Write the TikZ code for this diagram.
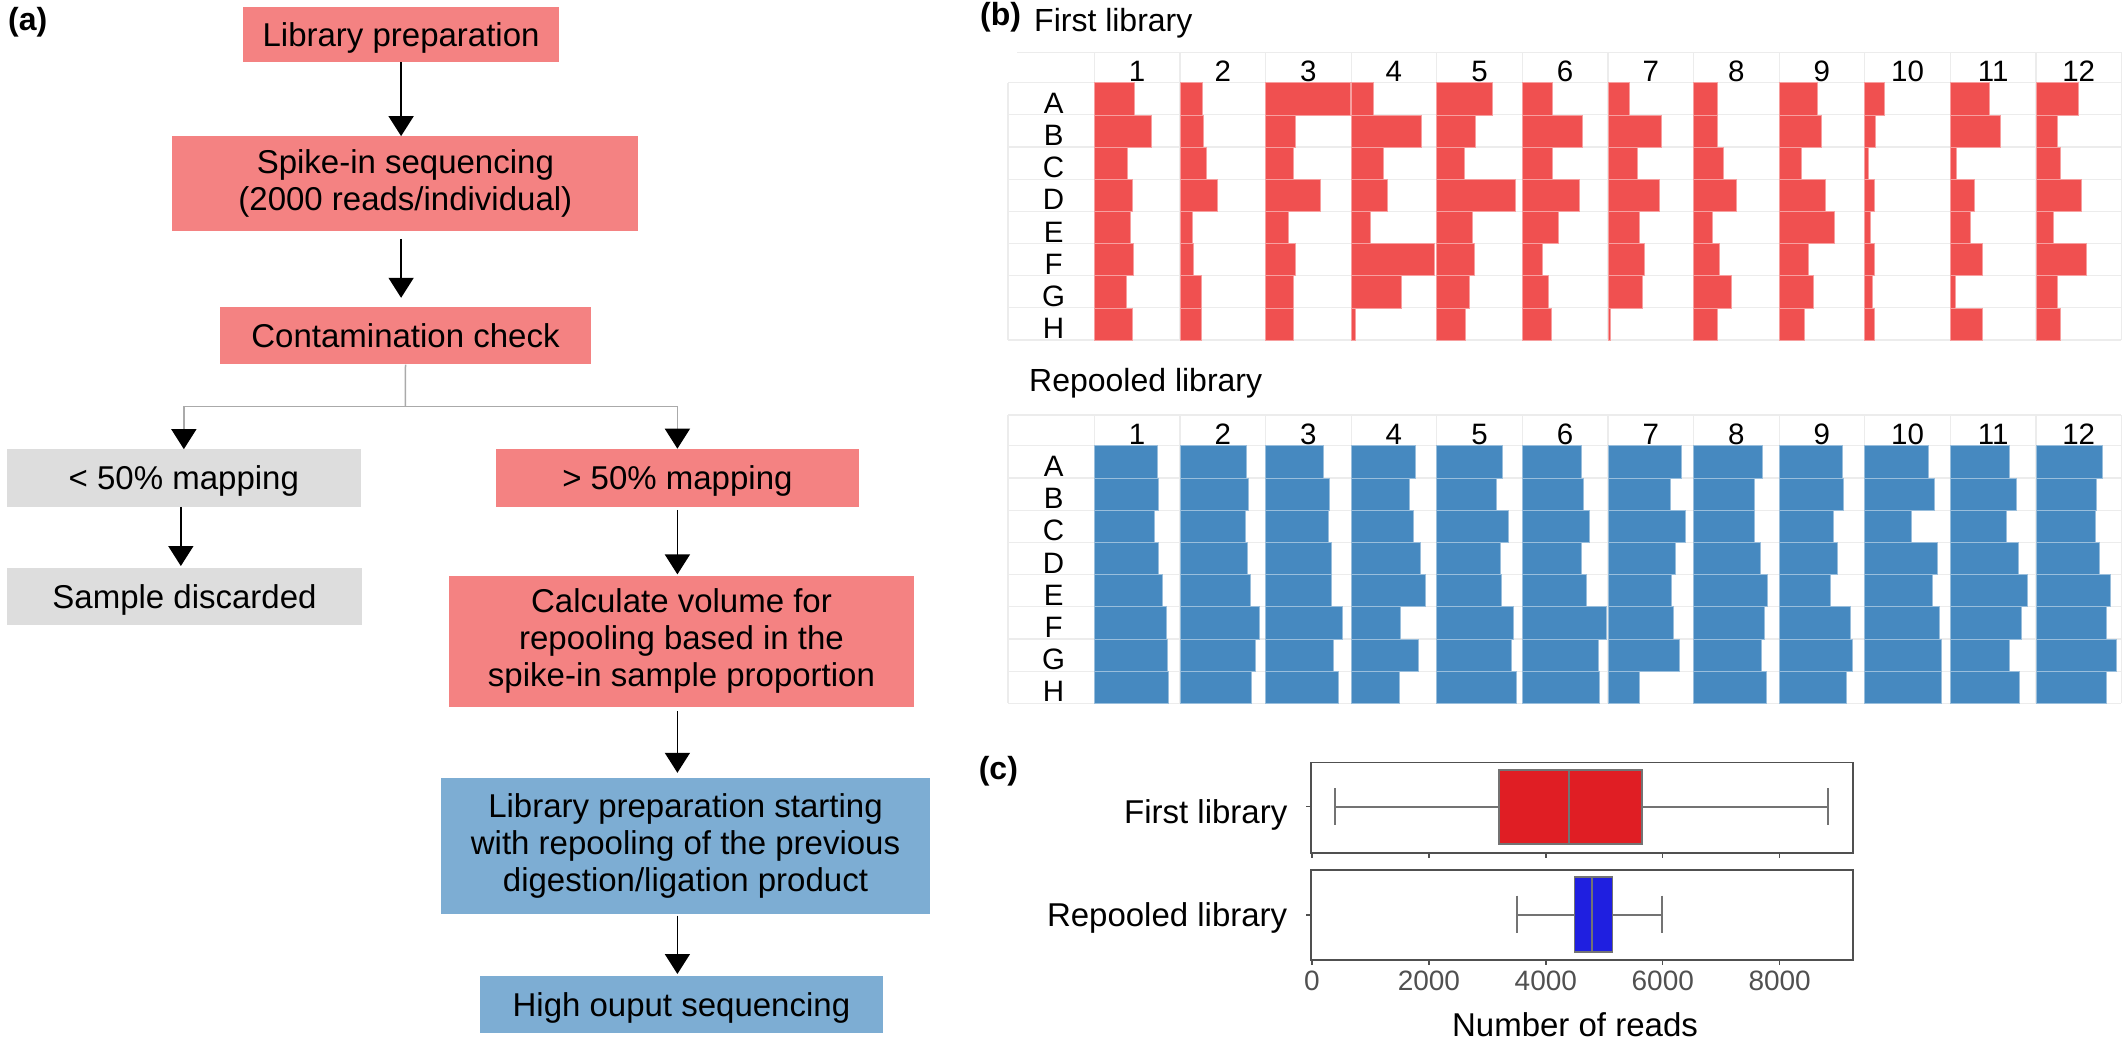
\documentclass[tikz,border=0pt]{standalone}
\usepackage{fontspec}
\setmainfont{Liberation Sans}
\usetikzlibrary{arrows.meta}
\definecolor{salmon}{RGB}{244,130,130}
\definecolor{lgray}{RGB}{221,221,221}
\definecolor{lblue}{RGB}{125,173,211}
\definecolor{barred}{RGB}{240,80,80}
\definecolor{barblue}{RGB}{70,137,192}
\definecolor{gridc}{RGB}{236,236,236}
\definecolor{boxred}{RGB}{224,30,36}
\definecolor{boxblue}{RGB}{31,31,224}
\definecolor{axisgray}{RGB}{80,80,80}
\definecolor{connc}{RGB}{170,170,170}
\newcommand{\fcfont}{\fontsize{33}{37}\selectfont}
\newcommand{\lblfont}{\fontsize{29.5}{33}\selectfont}
\newcommand{\ttlfont}{\fontsize{32}{36}\selectfont}
\newcommand{\panfont}{\bfseries\fontsize{32}{36}\selectfont}
\newcommand{\tckfont}{\fontsize{28}{32}\selectfont}
\begin{document}
\begin{tikzpicture}[x=1pt,y=-1pt,
  fcbox/.style={rectangle, inner sep=0pt, align=center, font=\fcfont, text=black},
  oneline/.style={text height=23.6pt, text depth=0pt},
  multiline/.style={yshift=-3pt},
  arr/.style={draw=black, line width=1.7pt, -{Triangle[width=25pt,length=20pt]}},
  gline/.style={draw=connc, line width=1.5pt, -{Triangle[width=25pt,length=20pt,color=black]}},
  plainline/.style={draw=connc, line width=1.5pt},
  plab/.style={font=\panfont, anchor=base west, inner sep=0pt},
  ttl/.style={font=\ttlfont, anchor=base west, inner sep=0pt},
  collab/.style={font=\lblfont, anchor=base, inner sep=0pt},
  gridline/.style={draw=gridc, line width=1.2pt},
  redbar/.style={fill=barred, draw=white!45!barred, line width=0.6pt},
  bluebar/.style={fill=barblue, draw=white!45!barblue, line width=0.6pt},
  frame/.style={draw=axisgray, line width=1.6pt},
  axline/.style={draw=axisgray, line width=1.4pt},
  bpline/.style={draw=axisgray!80!white, line width=1.8pt},
  ticklab/.style={font=\tckfont, text=axisgray, anchor=base, inner sep=0pt},
  catlab/.style={font=\fcfont, anchor=base east, inner sep=0pt}
]
\useasboundingbox (0,0) rectangle (2128,1046);

% ---------------- panel (a) ----------------
\node[plab] (pa) at (8,30.3) {(a)};
\node[fcbox, oneline, fill=salmon, minimum width=315.6pt, minimum height=55.3pt] (lp) at (401.1,34.35) {Library preparation};
\node[fcbox, multiline, fill=salmon, minimum width=466.1pt, minimum height=94.4pt] (sp) at (405.35,180.5) {Spike-in sequencing\\(2000 reads/individual)};
\node[fcbox, oneline, fill=salmon, minimum width=371pt, minimum height=57.3pt] (cc) at (405.5,335.65) {Contamination check};
\node[fcbox, oneline, fill=lgray, minimum width=353.7pt, minimum height=57.3pt] (lt) at (183.85,478) {< 50\% mapping};
\node[fcbox, oneline, fill=salmon, minimum width=362.6pt, minimum height=57.7pt] (gt) at (677.4,477.75) {> 50\% mapping};
\node[fcbox, oneline, fill=lgray, minimum width=355pt, minimum height=57.3pt] (sd) at (184.5,596.35) {Sample discarded};
\node[fcbox, multiline, fill=salmon, minimum width=465.3pt, minimum height=131.3pt] (cv) at (681.5,638.25) {Calculate volume for\\repooling based in the\\spike-in sample proportion};
\node[fcbox, multiline, fill=lblue, minimum width=489pt, minimum height=136.3pt] (lr) at (685.5,843.15) {Library preparation starting\\with repooling of the previous\\digestion/ligation product};
\node[fcbox, oneline, fill=lblue, minimum width=402.2pt, minimum height=56.6pt] (hs) at (681.4,1004.5) {High ouput sequencing};

\draw[arr] (lp.south) -- (lp.south |- sp.north);
\draw[arr, shorten <=8pt, shorten >=9pt] (sp.south -| lp.south) -- (cc.north -| lp.south);
\coordinate (split) at (405.4,406.7);
\draw[plainline] (cc.south) -- (split);
\draw[gline] (split) -| (lt.north);
\draw[gline] (split) -| (gt.north);
\draw[arr, shorten >=1.5pt] ([xshift=-3pt]lt.south) -- ([xshift=-3pt]lt.south |- sd.north);
\draw[arr, shorten <=3pt, shorten >=1pt] (gt.south) -- (gt.south |- cv.north);
\draw[arr, shorten <=4pt, shorten >=5pt] (gt.south |- cv.south) -- (gt.south |- lr.north);
\draw[arr, shorten <=1pt, shorten >=2pt] (gt.south |- lr.south) -- (gt.south |- hs.north);

% ---------------- panel (b) ----------------
\node[plab] (pb) at (980,26) {(b)};
\node[ttl] (t1) at (1034,31.7) {First library};
\node[ttl] (t2) at (1029,391.7) {Repooled library};

% grid first library
\draw[gridline] (1017,52.5) -- (2121,52.5);
\foreach \i in {0,...,8} \draw[gridline] (1008,{82.7+\i*32.16}) -- (2121,{82.7+\i*32.16});
\foreach \c in {0,...,12} \draw[gridline] ({1094.3+\c*85.6},52.5) -- ({1094.3+\c*85.6},340);
\draw[gridline] (1008,82.7) -- (1008,340);

% grid repooled library
\draw[gridline] (1008,415) -- (2121,415);
\foreach \i in {0,...,8} \draw[gridline] (1008,{445.7+\i*32.2}) -- (2121,{445.7+\i*32.2});
\foreach \c in {0,...,12} \draw[gridline] ({1094.3+\c*85.6},415) -- ({1094.3+\c*85.6},703.3);
\draw[gridline] (1008,415) -- (1008,703.3);

% bars first library
\foreach \vals [count=\c] in {
 {.467,.663,.383,.446,.417,.45,.371,.438},
 {.263,.279,.308,.438,.146,.154,.254,.254},
 {.99,.346,.325,.638,.267,.346,.321,.321},
 {.258,.821,.379,.417,.221,.967,.583,.05},
 {.646,.446,.321,.913,.413,.438,.375,.333},
 {.355,.70,.355,.661,.424,.238,.308,.338},
 {.245,.629,.349,.603,.37,.426,.396,.03},
 {.276,.276,.349,.5,.22,.297,.439,.276},
 {.448,.491,.254,.538,.65,.345,.4,.297},
 {.224,.129,.047,.112,.065,.112,.09,.108},
 {.452,.586,.065,.276,.237,.375,.056,.375},
 {.491,.254,.28,.525,.198,.59,.25,.289}}{
  \foreach \v [count=\r] in \vals {
    \filldraw[redbar] ({1094.3+(\c-1)*85.6},{82.7+(\r-1)*32.16}) rectangle ++({\v*85.6},32.16);
  }
}

% bars repooled library
\foreach \vals [count=\c] in {
 {.738,.75,.7,.742,.792,.838,.85,.867},
 {.779,.796,.758,.788,.825,.925,.875,.838},
 {.679,.742,.733,.771,.771,.896,.788,.854},
 {.754,.675,.721,.813,.867,.579,.779,.567},
 {.771,.692,.838,.746,.758,.892,.875,.933},
 {.692,.713,.786,.687,.752,.98,.886,.894},
 {.861,.724,.909,.788,.745,.758,.831,.362},
 {.805,.711,.706,.775,.857,.827,.792,.853},
 {.736,.749,.637,.68,.603,.827,.857,.784},
 {.745,.814,.547,.848,.792,.87,.896,.9},
 {.685,.775,.655,.797,.904,.827,.689,.801},
 {.78,.702,.698,.745,.87,.818,.939,.827}}{
  \foreach \v [count=\r] in \vals {
    \filldraw[bluebar] ({1094.3+(\c-1)*85.6},{445.7+(\r-1)*32.2}) rectangle ++({\v*85.6},32.2);
  }
}

% column and row labels
\foreach \c in {1,...,12} {
  \node[collab] (fc\c) at ({1094.3+(\c-0.5)*85.6},81.5) {\c};
  \node[collab] (rc\c) at ({1094.3+(\c-0.5)*85.6},444.2) {\c};
}
\foreach \l [count=\r] in {A,B,C,D,E,F,G,H} {
  \node[collab] (fr\r) at (1053.6,{82.7+\r*32.16-1.4}) {\l};
  \node[collab] (rr\r) at (1053.6,{445.7+\r*32.2-1.4}) {\l};
}

% ---------------- panel (c) ----------------
\node[plab] (pc) at (978.6,779.7) {(c)};
\draw[frame] (1311,762.3) rectangle (1853,852.7);
\draw[frame] (1311,870) rectangle (1853,960);
\foreach \v in {0,2000,4000,6000,8000} {
  \draw[axline] ({1312+\v*0.05846},852.7) -- ++(0,5);
  \draw[axline] ({1312+\v*0.05846},960) -- ++(0,5);
  \node[ticklab] (tk\v) at ({1312+\v*0.05846},990) {\v};
}
\draw[axline] (1306,806.7) -- (1311,806.7);
\draw[axline] (1306,915) -- (1311,915);
\node[catlab] (cf) at (1287.5,823.3) {First library};
\node[catlab] (cr) at (1287.5,926.7) {Repooled library};
\node[font=\fcfont, anchor=base, inner sep=0pt] (xl) at (1575,1036.7) {Number of reads};

% box plot first library
\draw[bpline] (1335,806.7) -- (1499.3,806.7);
\draw[bpline] (1641.6,806.7) -- (1828.2,806.7);
\draw[bpline] (1335,788.3) -- (1335,825);
\draw[bpline] (1828.2,788.3) -- (1828.2,825);
\filldraw[fill=boxred, bpline] (1499.3,770) rectangle (1641.6,844);
\draw[bpline] (1568.7,770) -- (1568.7,844);

% box plot repooled library
\draw[bpline] (1517,915) -- (1574.5,915);
\draw[bpline] (1612.4,915) -- (1662.3,915);
\draw[bpline] (1517,895.7) -- (1517,933.3);
\draw[bpline] (1662.3,895.7) -- (1662.3,933.3);
\filldraw[fill=boxblue, bpline] (1574.5,877.3) rectangle (1612.4,952);
\draw[bpline] (1591.7,877.3) -- (1591.7,952);
\end{tikzpicture}
\end{document}
